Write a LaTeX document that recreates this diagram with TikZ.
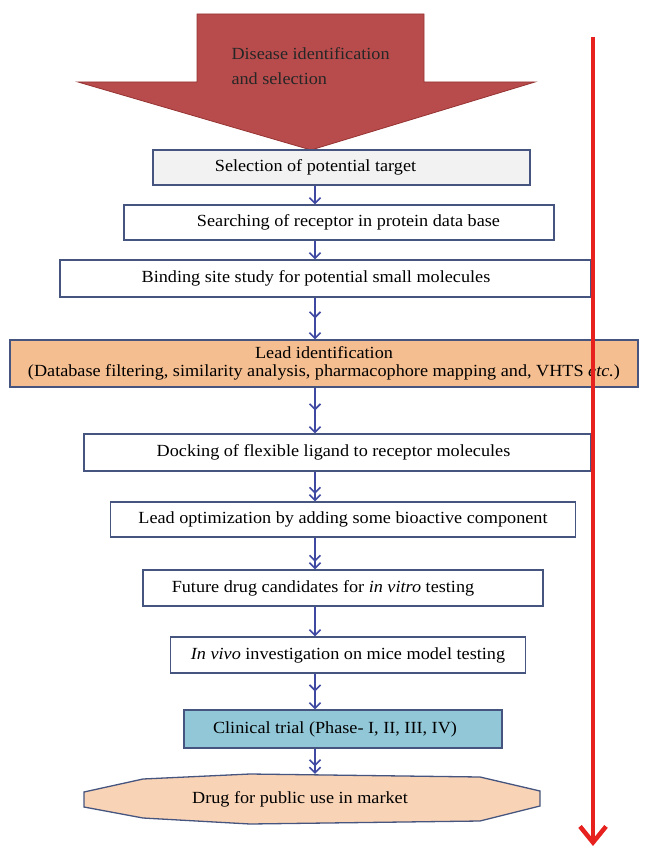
\documentclass[tikz,border=0pt]{standalone}
\usepackage{fontspec}
\setmainfont{Liberation Serif}[FakeStretch=1.07]
\usepackage{xcolor}
\usetikzlibrary{arrows.meta,positioning,decorations.markings}

\definecolor{boxline}{HTML}{46557F}
\definecolor{arrblue}{HTML}{3F49A2}
\definecolor{selfill}{HTML}{F2F2F2}
\definecolor{leadfill}{HTML}{F5BE90}
\definecolor{trialfill}{HTML}{92C7D8}
\definecolor{marketfill}{HTML}{F8D3B5}
\definecolor{bigred}{HTML}{B84C4C}
\definecolor{bigredline}{HTML}{963333}
\definecolor{linered}{HTML}{E6211E}
\newcommand{\boxfont}{\fontsize{17}{17.5}\selectfont}

\begin{document}
\begin{tikzpicture}[
    x=1pt, y=-1pt,
    box/.style={draw=boxline, line width=1.3pt, align=center, inner sep=0pt, minimum height=35pt, fill=white, font=\boxfont},
    barb/.tip={Straight Barb[length=5.5pt,width=11pt]},
    arr/.style={-{barb}, line width=1.6pt, draw=arrblue},
    arrmid/.style={arr, postaction={decorate}, decoration={markings, mark=at position 0.5 with {\arrow{barb}}}},
    arrdbl/.style={-{barb[sep=0pt]barb}, line width=1.6pt, draw=arrblue},
    redline/.style={-{Straight Barb[length=16pt,width=26pt]}, line width=4.5pt, draw=linered}
]
\useasboundingbox (0,0) rectangle (649,848);

% big arrow on top
\draw[fill=bigred, draw=bigredline, line width=0.8pt]
    (197,14) -- (424,14) -- (424,82) -- (535,82) -- (311,150) -- (78,82) -- (197,82) -- cycle;
\node[anchor=west, align=left, font=\boxfont, text=black!85] (disease) at (228,66) {Disease identification\\[8pt]and selection};

\coordinate (ax) at (315,0);

\node[box, fill=selfill, minimum width=377pt] (target) at (341.5,167.5) {\hspace*{-52pt}Selection of potential target};
\node[box, minimum width=430pt] (search) at (339,222.5) {\hspace*{19pt}Searching of receptor in protein data base};
\node[box, minimum width=531pt, minimum height=37pt] (binding) at (325.5,278.5) {\hspace*{-19pt}Binding site study for potential small molecules};
\node[box, fill=leadfill, minimum width=628pt, minimum height=47pt] (lead) at (324,363.5) {Lead identification\\(Database filtering, similarity analysis, pharmacophore mapping and, VHTS \textit{etc.})};
\node[box, minimum width=507pt, minimum height=37pt] (docking) at (337.5,452.5) {\hspace*{-8pt}Docking of flexible ligand to receptor molecules};
\node[box, minimum width=465pt] (optim) at (343,519.5) {Lead optimization by adding some bioactive component};
\node[box, minimum width=400pt, minimum height=36pt] (vitro) at (343,588) {\hspace*{-40pt}Future drug candidates for \textit{in vitro} testing};
\node[box, minimum width=355pt, minimum height=36pt] (vivo) at (348,655) {\textit{In vivo} investigation on mice model testing};
\node[box, fill=trialfill, minimum width=318pt, minimum height=38pt] (trial) at (343,729) {\hspace*{-16pt}Clinical trial (Phase- I, II, III, IV)};

% octagon at the bottom
\draw[fill=marketfill, draw=boxline, line width=1.3pt]
    (84,792) -- (143,779) -- (250,774) -- (480,777) -- (540,791) -- (540,806)
    -- (480,821) -- (250,824) -- (143,818) -- (84,807) -- cycle;
\node[font=\boxfont, inner sep=0pt, minimum width=456pt, minimum height=50pt] (market) at (312,799) {\hspace*{-24pt}Drug for public use in market};

\draw[arr] (target.south -| ax) -- (search.north -| ax);
\draw[arr] (search.south -| ax) -- (binding.north -| ax);
\draw[arrmid] (binding.south -| ax) -- (lead.north -| ax);
\draw[arrmid] (lead.south -| ax) -- (docking.north -| ax);
\draw[arrdbl] (docking.south -| ax) -- (optim.north -| ax);
\draw[arrdbl] (optim.south -| ax) -- (vitro.north -| ax);
\draw[arr] (vitro.south -| ax) -- (vivo.north -| ax);
\draw[arrmid] (vivo.south -| ax) -- (trial.north -| ax);
\draw[arrdbl] (trial.south -| ax) -- (market.north -| ax);

% red time line
\coordinate (start) at (593,37);
\coordinate (finish) at (593,846);
\draw[redline] (start) -- (finish);
\end{tikzpicture}
\end{document}
